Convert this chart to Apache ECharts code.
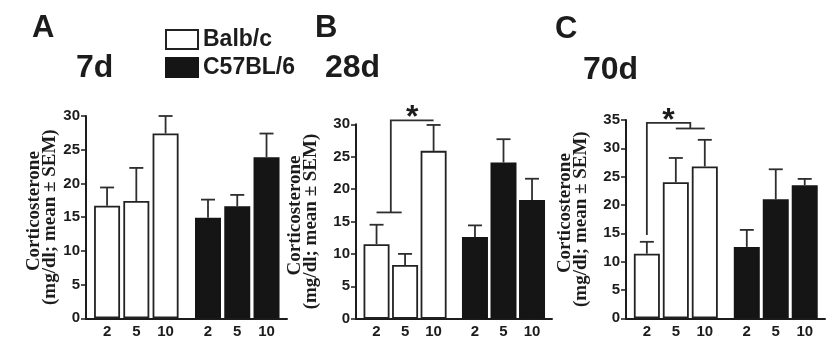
<!DOCTYPE html>
<html>
<head>
<meta charset="utf-8">
<script src="https://cdn.jsdelivr.net/npm/echarts@6/dist/echarts.min.js"></script>
<style>
  html, body { margin: 0; padding: 0; background: #fff; }
  #chart { width: 830px; height: 342px; }
</style>
</head>
<body>
<div id="chart"></div>
<script>
// Doses (tick labels under each bar group) and strains
const doses = ['2', '5', '10'];
const strains = ['Balb/c', 'C57BL/6'];
const panelLetters = ['A', 'B', 'C'];
const panelAges = ['7d', '28d', '70d'];
const yMaxes = [30, 30, 35];

// Corticosterone (mg/dl), mean and SEM, per dose — 7 days
const balbMean7 = [16.7, 17.4, 27.4];
const balbSem7 = [2.7, 4.9, 2.6];
const c57Mean7 = [14.9, 16.6, 23.9];
const c57Sem7 = [2.7, 1.7, 3.5];

// 28 days
const balbMean28 = [11.5, 8.3, 25.9];
const balbSem28 = [3.0, 1.7, 4.0];
const c57Mean28 = [12.6, 24.1, 18.3];
const c57Sem28 = [1.8, 3.6, 3.3];

// 70 days
const balbMean70 = [11.4, 24.0, 26.8];
const balbSem70 = [2.1, 4.3, 4.7];
const c57Mean70 = [12.6, 21.0, 23.5];
const c57Sem70 = [3.0, 5.3, 1.1];

// Significance brackets (bar indices within the Balb/c group, y levels in mg/dl)
const bracket28 = { left: [0, 1], leftLevel: 16.4, right: [2], rightLevel: 30.6, top: 30.6 };
const bracket70 = { left: [0], leftLevel: 14.7, right: [1, 2], rightLevel: 33.5, top: 34.5 };

const panels = [
  { balb: [balbMean7, balbSem7], c57: [c57Mean7, c57Sem7], bracket: null },
  { balb: [balbMean28, balbSem28], c57: [c57Mean28, c57Sem28], bracket: bracket28 },
  { balb: [balbMean70, balbSem70], c57: [c57Mean70, c57Sem70], bracket: bracket70 }
];

// ---- layout ----
const GROUP_STEP = 3.45;           // offset of the second strain group on the x scale
const X_MIN = -0.72, X_MAX = 6.15;
const grids = [
  { left: 86, top: 116, width: 201, height: 202.3 },
  { left: 356, top: 124.3, width: 196, height: 194.4 },
  { left: 626, top: 120, width: 199, height: 198.3 }
];
const nameGaps = [28, 37, 37];
const letterPos = [[32, 13], [315, 13], [555, 14]];
const agePos = [[76, 52], [325, 52], [583, 54]];

const SANS = 'Liberation Sans';
const SERIF = 'Liberation Serif';
const INK = '#1c1c1c';

const pos = (g, i) => g * GROUP_STEP + i;
const tickValues = [];
const tickText = {};
[0, 1].forEach(g => doses.forEach((d, i) => { tickValues.push(pos(g, i)); tickText[pos(g, i).toFixed(2)] = d; }));

function renderError(params, api) {
  const x = api.value(0), m = api.value(1), u = api.value(2);
  const base = api.coord([x, m]);
  const top = api.coord([x, u]);
  const half = 7;
  const st = { stroke: '#2e2e2e', lineWidth: 1.8 };
  return {
    type: 'group',
    children: [
      { type: 'line', shape: { x1: base[0], y1: base[1], x2: top[0], y2: top[1] }, style: st },
      { type: 'line', shape: { x1: top[0] - half, y1: top[1], x2: top[0] + half, y2: top[1] }, style: st }
    ]
  };
}

function makeBracketRenderer(b) {
  return function (params, api) {
    const mid = arr => arr.reduce((s, v) => s + v, 0) / arr.length;
    const st = { stroke: '#2e2e2e', lineWidth: 1.8, fill: null };
    const children = [];
    const lx = mid(b.left), rx = mid(b.right);
    const pTopL = api.coord([lx, b.top]);
    const pTopR = api.coord([rx, b.top]);
    const pL = api.coord([lx, b.leftLevel]);
    const pR = api.coord([rx, b.rightLevel]);
    children.push({ type: 'polyline', shape: { points: [pL, pTopL, pTopR, pR] }, style: st });
    if (b.left.length > 1) {
      const a = api.coord([b.left[0], b.leftLevel]);
      const c = api.coord([b.left[b.left.length - 1] - 0.12, b.leftLevel]);
      children.push({ type: 'line', shape: { x1: a[0], y1: a[1], x2: c[0], y2: c[1] }, style: st });
    }
    if (b.right.length > 1) {
      const a = api.coord([b.right[0], b.rightLevel]);
      const c = api.coord([b.right[b.right.length - 1], b.rightLevel]);
      children.push({ type: 'line', shape: { x1: a[0], y1: a[1], x2: c[0], y2: c[1] }, style: st });
    }
    children.push({
      type: 'text',
      style: {
        text: '*', x: (pTopL[0] + pTopR[0]) / 2, y: pTopL[1] - 2,
        align: 'center', verticalAlign: 'middle',
        font: 'bold 32px "' + SANS + '"', fill: INK
      }
    });
    return { type: 'group', children };
  };
}

const option = {
  animation: false,
  backgroundColor: '#fff',
  title: [],
  legend: {
    data: strains,
    orient: 'vertical',
    left: 165, top: 28,
    padding: 0,
    itemWidth: 32, itemHeight: 19, itemGap: 5,
    icon: 'rect',
    selectedMode: false,
    textStyle: { fontFamily: SANS, fontWeight: 'bold', fontSize: 23, color: INK }
  },
  grid: [],
  xAxis: [],
  yAxis: [],
  series: []
};

panels.forEach((p, k) => {
  option.title.push({
    text: panelLetters[k], left: letterPos[k][0], top: letterPos[k][1], padding: 0,
    textStyle: { fontFamily: SANS, fontWeight: 'bold', fontSize: 31, color: INK }
  });
  option.title.push({
    text: panelAges[k], left: agePos[k][0], top: agePos[k][1], padding: 0,
    textStyle: { fontFamily: SANS, fontWeight: 'bold', fontSize: 32, color: INK }
  });
  option.grid.push(Object.assign({ containLabel: false }, grids[k]));
  option.xAxis.push({
    type: 'value', gridIndex: k, min: X_MIN, max: X_MAX,
    axisLine: { show: true, onZero: false, lineStyle: { color: INK, width: 2 } },
    axisTick: { show: false },
    splitLine: { show: false },
    axisLabel: {
      customValues: tickValues,
      formatter: v => tickText[Number(v).toFixed(2)] || '',
      margin: 6,
      fontFamily: SANS, fontWeight: 'bold', fontSize: 15, color: INK
    }
  });
  option.yAxis.push({
    type: 'value', gridIndex: k, min: 0, max: yMaxes[k], interval: 5,
    name: '{a|Corticosterone}\n{b|(mg/dl; mean \u00b1 SEM)}',
    nameLocation: 'middle', nameRotate: 90, nameGap: nameGaps[k],
    nameTextStyle: {
      fontFamily: SERIF, fontWeight: 'bold', fontSize: 19, color: INK, lineHeight: 16,
      rich: {
        a: { fontFamily: SERIF, fontWeight: 'bold', fontSize: 19, lineHeight: 16, color: INK, padding: [0, 0, 0, 12] },
        b: { fontFamily: SERIF, fontWeight: 'bold', fontSize: 19, lineHeight: 16, color: INK }
      }
    },
    axisLine: { show: true, onZero: false, lineStyle: { color: INK, width: 2 } },
    axisTick: { show: true, length: 5, lineStyle: { color: INK, width: 1.5 } },
    splitLine: { show: false },
    axisLabel: { margin: 6, fontFamily: SANS, fontWeight: 'bold', fontSize: 15, color: INK }
  });

  const groups = [p.balb, p.c57];
  groups.forEach((grp, g) => {
    const [means, sems] = grp;
    const white = g === 0;
    option.series.push({
      type: 'bar', name: strains[g], xAxisIndex: k, yAxisIndex: k,
      barWidth: 26, barGap: '-100%',
      data: means.map((m, i) => [pos(g, i), m]),
      itemStyle: {
        color: white ? '#ffffff' : '#151515',
        borderColor: white ? '#222222' : '#151515',
        borderWidth: 1.8
      },
      z: 2
    });
    option.series.push({
      type: 'custom', name: strains[g] + ' SEM', xAxisIndex: k, yAxisIndex: k,
      renderItem: renderError, clip: false,
      encode: { x: 0, y: [1, 2] },
      data: means.map((m, i) => [pos(g, i), m, m + sems[i]]),
      z: 3
    });
  });

  if (p.bracket) {
    option.series.push({
      type: 'custom', name: 'significance', xAxisIndex: k, yAxisIndex: k,
      renderItem: makeBracketRenderer(p.bracket), clip: false,
      encode: { x: 0, y: 1 },
      data: [[0, p.bracket.top]],
      z: 4
    });
  }
});

const chart = echarts.init(document.getElementById('chart'), null, { renderer: 'canvas' });
chart.setOption(option);
</script>
</body>
</html>
